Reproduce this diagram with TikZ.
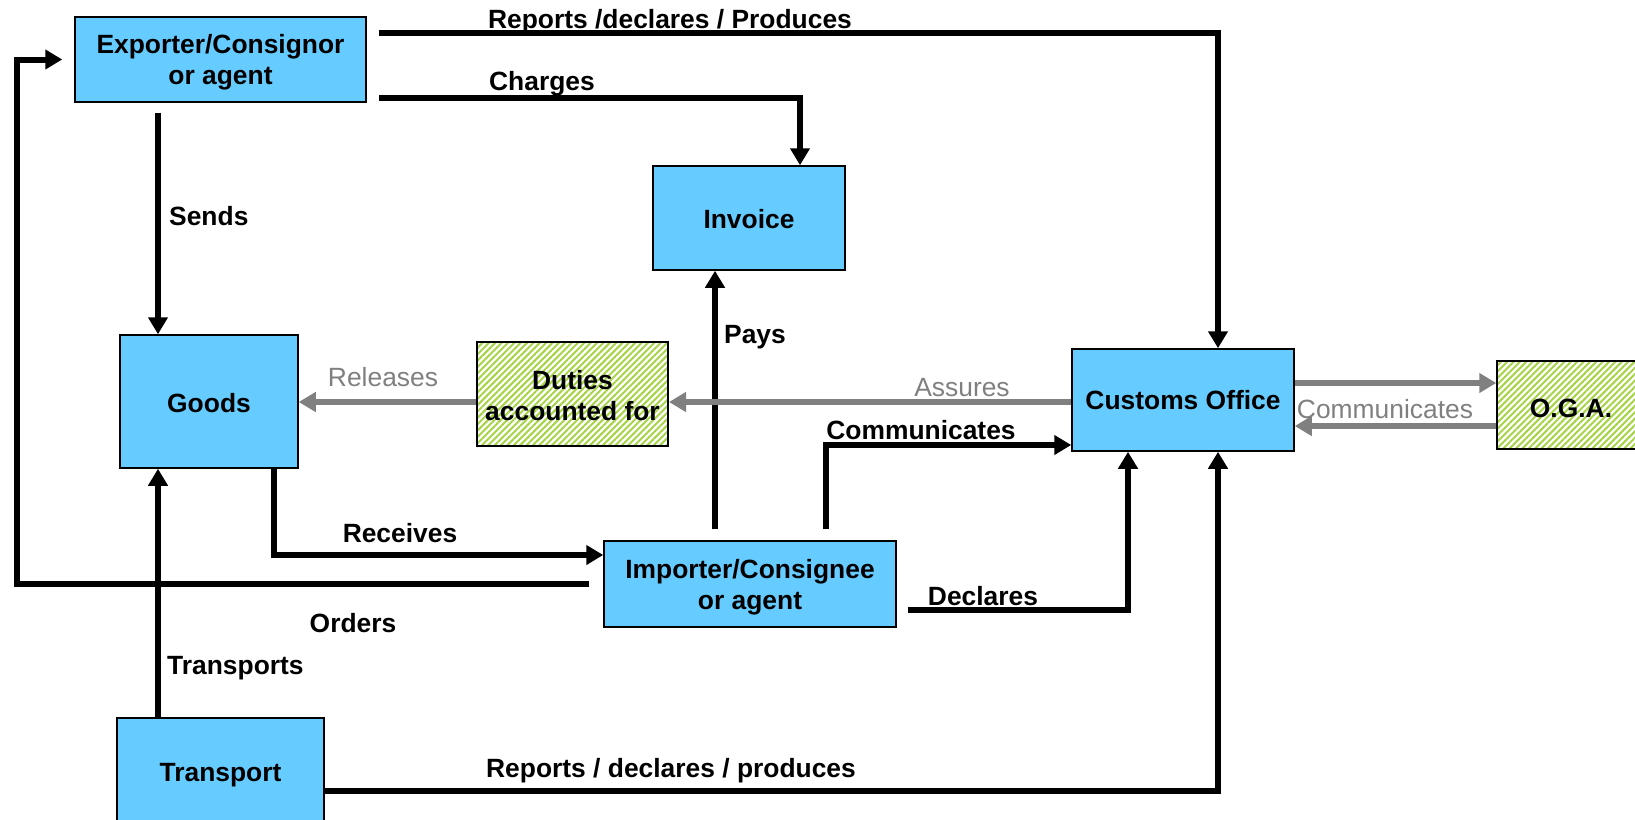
\documentclass[tikz,border=0pt]{standalone}
\usepackage{fontspec}
\setmainfont{Liberation Sans}
\usetikzlibrary{arrows.meta,patterns.meta}
\definecolor{boxblue}{HTML}{66CCFF}
\definecolor{hatchgreen}{HTML}{A5D445}
\definecolor{flowgray}{HTML}{808080}
\begin{document}
\begin{tikzpicture}[x=1pt,y=-1pt,
  font=\fontsize{26.4}{31}\selectfont\bfseries,
  box/.style={draw=black, line width=1.5pt, fill=boxblue, inner sep=0pt},
  hbox/.style={draw=black, line width=1.5pt, preaction={fill=white},
    pattern={Lines[angle=45,distance=4.5pt,line width=2pt]}, pattern color=hatchgreen,
    inner sep=0pt},
  boxtext/.style={align=center, inner sep=0pt, yshift=-#1},
  arr/.style={line width=6pt, line join=miter, -{Triangle[length=17pt,width=19pt]}},
  garr/.style={arr, draw=flowgray, fill=flowgray},
  lbl/.style={inner sep=0pt},
  glbl/.style={inner sep=0pt, text=flowgray, font=\fontsize{26.4}{31}\selectfont\mdseries}]
\useasboundingbox (0,0) rectangle (1635,819);
\fill[white] (0,0) rectangle (1635,819);

% boxes
\node[box, minimum width=291pt, minimum height=85pt,
  label={[boxtext=3pt]center:{Exporter/Consignor\\or agent}}] (exp) at (220.5,59.5) {};
\node[box, minimum width=192pt, minimum height=104pt,
  label={[boxtext=1pt]center:Invoice}] (inv) at (749,218) {};
\node[box, minimum width=178pt, minimum height=133pt,
  label={[boxtext=2pt]center:Goods}] (goods) at (209,401.5) {};
\node[hbox, minimum width=191pt, minimum height=104pt,
  label={[boxtext=2pt]center:{Duties\\accounted for}}] (duties) at (572.5,394) {};
\node[box, minimum width=222pt, minimum height=102pt,
  label={[boxtext=0pt]center:Customs Office}] (cust) at (1183,400) {};
\node[hbox, minimum width=148pt, minimum height=88pt,
  label={[boxtext=3pt]center:O.G.A.}] (oga) at (1571,405) {};
\node[box, minimum width=292pt, minimum height=86pt,
  label={[boxtext=3pt]center:{Importer/Consignee\\or agent}}] (imp) at (750,584) {};
\node[box, minimum width=207pt, minimum height=108pt,
  label={[boxtext=3pt]center:Transport}] (trans) at (220.5,772) {};
\coordinate (loopc) at (17,0);

% black connectors
\draw[arr, shorten <=12pt] ([yshift=-17pt]exp.north east) -| ([xshift=35pt]cust.north);
\draw[arr, shorten <=12pt] ([yshift=5pt]exp.south east) -| ([xshift=51pt]inv.north);
\draw[arr, shorten <=10pt] ([xshift=-62.5pt]exp.south) -- ([xshift=-62.5pt]exp.south |- goods.north);
\draw[arr, shorten <=14pt, shorten >=12pt] (imp.west) -- (imp.west -| loopc) |- (exp.west);
\draw[arr] ([xshift=65pt]goods.south) |- ([yshift=29pt]imp.west);
\draw[arr] ([xshift=-62.5pt]trans.north) -- ([xshift=-62.5pt]trans.north |- goods.south);
\draw[arr] ([yshift=-19pt]trans.east) -| ([xshift=35pt]cust.south);
\draw[arr, shorten <=11pt] ([xshift=-35pt]imp.north) -- ([xshift=-35pt]imp.north |- inv.south);
\draw[arr, shorten <=11pt] ([xshift=76pt]imp.north) |- ([yshift=-45pt]cust.west);
\draw[arr, shorten <=11pt] ([yshift=-26pt]imp.east) -| ([xshift=-55pt]cust.south);

% grey connectors
\draw[garr] ([yshift=-2pt]cust.west) -- ([yshift=-2pt]cust.west -| duties.east);
\draw[garr] ([yshift=-8pt]duties.west) -- ([yshift=-8pt]duties.west -| goods.east);
\draw[garr] ([yshift=17pt]cust.east) -- ([yshift=17pt]cust.east -| oga.west);
\draw[garr] ([yshift=-21pt]oga.west) -- ([yshift=-21pt]oga.west -| cust.east);

% labels
\node[lbl] (l1) at (670,22) {Reports /declares / Produces};
\node[lbl] (l2) at (542,84) {Charges};
\node[lbl, anchor=west] (l3) at (169,216) {Sends};
\node[glbl] (l4) at (383,377) {Releases};
\node[glbl] (l5) at (962,388) {Assures};
\node[glbl] (l6) at (1385,409) {Communicates};
\node[lbl, anchor=west] (l7) at (724,337) {Pays};
\node[lbl] (l8) at (921,430) {Communicates};
\node[lbl] (l9) at (400,533) {Receives};
\node[lbl] (l10) at (353,623) {Orders};
\node[lbl] (l11) at (983,596) {Declares};
\node[lbl, anchor=west] (l12) at (167,668) {Transports};
\node[lbl] (l13) at (671,771) {Reports / declares / produces};
\end{tikzpicture}
\end{document}
